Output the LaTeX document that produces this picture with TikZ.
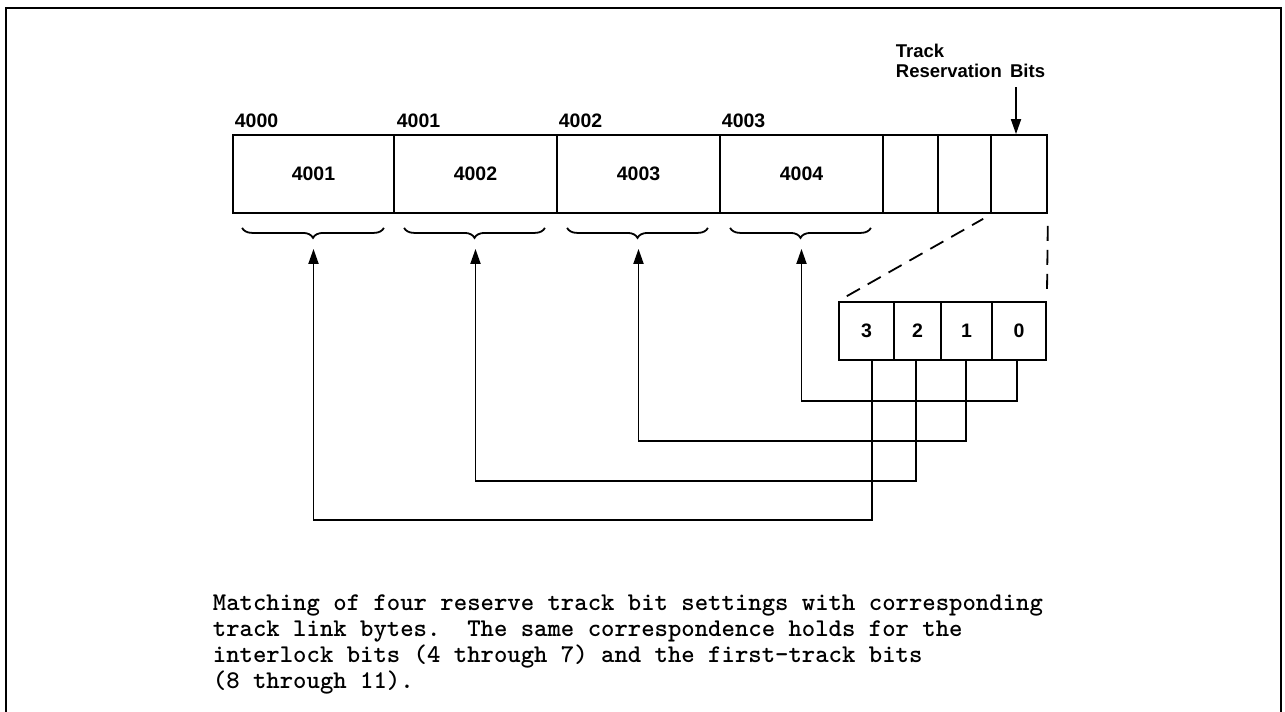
\documentclass[tikz,border=0pt]{standalone}
\usepackage{fontspec}
\setmainfont{Liberation Sans}
\usetikzlibrary{arrows.meta,decorations.pathreplacing}
\begin{document}
\begin{tikzpicture}[x=1pt,y=-1pt,
  line width=1.8pt,
  cell/.style={draw, line width=1.8pt, inner sep=0pt, font=\bfseries\fontsize{19.5}{21}\selectfont},
  addr/.style={anchor=base west, inner sep=0pt, font=\bfseries\fontsize{19.5}{21}\selectfont},
  lbl/.style={anchor=base west, inner sep=0pt, font=\bfseries\fontsize{18.5}{20}\selectfont},
  arr/.style={-{Triangle[width=10pt,length=15pt]}, line width=1.8pt},
  brc/.style={decorate, decoration={brace, amplitude=10pt, mirror}, line width=1.8pt},
  dsh/.style={dash pattern=on 15pt off 9pt, line width=1.8pt},
  capline/.style={anchor=base west, inner sep=0pt, font=\ttfamily\bfseries\frenchspacing\fontsize{25.5}{26}\selectfont}
]
\useasboundingbox (0,0) rectangle (1285,712);
% frame
\coordinate (f1) at (6,712);
\coordinate (f2) at (6,8);
\coordinate (f3) at (1281,8);
\coordinate (f4) at (1281,712);
\draw[line width=2pt] (f1) -- (f2) -- (f3) -- (f4);

% main word
\node[cell, minimum width=161pt, minimum height=78pt] (c1) at (313.5,174) {4001};
\node[cell, minimum width=163pt, minimum height=78pt] (c2) at (475.5,174) {4002};
\node[cell, minimum width=163pt, minimum height=78pt] (c3) at (638.5,174) {4003};
\node[cell, minimum width=163pt, minimum height=78pt] (c4) at (801.5,174) {4004};
\node[cell, minimum width=55pt, minimum height=78pt] (c5) at (910.5,174) {};
\node[cell, minimum width=53pt, minimum height=78pt] (c6) at (964.5,174) {};
\node[cell, minimum width=56pt, minimum height=78pt] (c7) at (1019,174) {};

% address labels
\node[addr] (a0) at (234,127) {4000};
\node[addr] (a1) at (396,127) {4001};
\node[addr] (a2) at (558,127) {4002};
\node[addr] (a3) at (721,127) {4003};

% track reservation bits label
\node[lbl] (trk) at (895,57) {Track};
\node[lbl] (rsv) at (895,77) {Reservation\hspace{0.45em}Bits};
\coordinate (bt) at (1016,87);
\draw[arr] (bt) -- (bt |- c7.north);

% braces
\draw[brc] ([shift={(10,14)}]c1.south west) -- ([shift={(-11,14)}]c1.south east);
\draw[brc] ([shift={(11,14)}]c2.south west) -- ([shift={(-13,14)}]c2.south east);
\draw[brc] ([shift={(11,14)}]c3.south west) -- ([shift={(-13,14)}]c3.south east);
\draw[brc] ([shift={(11,14)}]c4.south west) -- ([shift={(-13,14)}]c4.south east);

% bit box
\node[cell, minimum width=55pt, minimum height=58pt] (b3) at (866.5,331) {3};
\node[cell, minimum width=47pt, minimum height=58pt] (b2) at (917.5,331) {2};
\node[cell, minimum width=51pt, minimum height=58pt] (b1) at (966.5,331) {1};
\node[cell, minimum width=54pt, minimum height=58pt] (b0) at (1019,331) {0};

% dashed expansion lines
\draw[dsh, shorten <=10pt, shorten >=10pt] (b3.north west) -- (c6.south east);
\draw[dsh, shorten <=12pt, shorten >=9pt] (c7.south east) -- (b0.north east);

% arrow tips under braces
\coordinate (t1) at ([shift={(0,35)}]c1.south);
\coordinate (t2) at ([shift={(0,35)}]c2.south);
\coordinate (t3) at ([shift={(0,35)}]c3.south);
\coordinate (t4) at ([shift={(0,35)}]c4.south);
% routing corners
\coordinate (k0) at (801.5,401);
\coordinate (k1) at (638.5,441);
\coordinate (k2) at (475.5,481);
\coordinate (k3) at (313.5,520);

\draw[arr] ([xshift=-2pt]b0.south) |- (k0) -- (t4);
\draw[arr] ([xshift=-0.5pt]b1.south) |- (k1) -- (t3);
\draw[arr] ([xshift=-1.5pt]b2.south) |- (k2) -- (t2);
\draw[arr] ([xshift=5.5pt]b3.south) |- (k3) -- (t1);

% caption
\node[capline] (cap1) at (212,610) {Matching of four reserve track bit settings with corresponding};
\node[capline] (cap2) at (212,636) {track link bytes.\ \ The same correspondence holds for the};
\node[capline] (cap3) at (212,662) {interlock bits (4 through 7) and the first-track bits};
\node[capline] (cap4) at (212,688) {(8 through 11).};
\end{tikzpicture}
\end{document}
